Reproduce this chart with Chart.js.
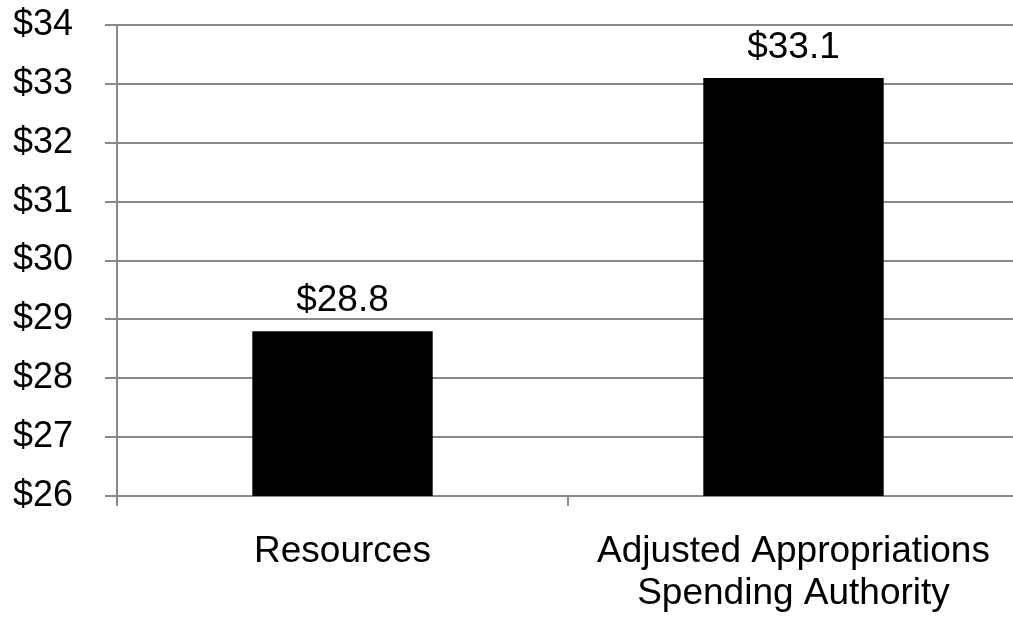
<!DOCTYPE html>
<html>
<head>
<meta charset="utf-8">
<script src="https://cdn.jsdelivr.net/npm/chart.js@4/dist/chart.umd.min.js"></script>
<style>
  html, body { margin: 0; padding: 0; background: #fff; overflow: hidden; }
  #wrap { width: 1020px; height: 617px; position: relative; }
</style>
</head>
<body>
<div id="wrap"><canvas id="c"></canvas></div>
<script>
const categories = ['Resources', ['Adjusted Appropriations', 'Spending Authority']];
const values = [28.8, 33.1];
const yMin = 26;
const yMax = 34;
const yStep = 1;
const currency = '$';

const FONT = "'Liberation Sans', Arial, Helvetica, sans-serif";
const GRID = '#898989';

const valueLabels = {
  id: 'valueLabels',
  afterDatasetsDraw(chart) {
    const ctx = chart.ctx;
    const meta = chart.getDatasetMeta(0);
    ctx.save();
    ctx.font = '37px ' + FONT;
    ctx.fillStyle = '#000';
    ctx.textAlign = 'center';
    ctx.textBaseline = 'alphabetic';
    meta.data.forEach((bar, i) => {
      const v = chart.data.datasets[0].data[i];
      ctx.fillText(currency + v.toFixed(1), bar.x, bar.y - 20);
    });
    ctx.restore();
  }
};

new Chart(document.getElementById('c'), {
  type: 'bar',
  data: {
    labels: categories,
    datasets: [{
      data: values,
      backgroundColor: '#000000',
      borderWidth: 0,
      barPercentage: 0.4,
      categoryPercentage: 1.0
    }]
  },
  options: {
    responsive: true,
    maintainAspectRatio: false,
    animation: false,
    layout: { padding: { left: 12, right: 1, top: 25, bottom: 4 } },
    plugins: { legend: { display: false }, tooltip: { enabled: false } },
    scales: {
      x: {
        afterFit(scale) {
          scale.height = 117;
          scale.paddingLeft = 0;
          scale.paddingRight = 0;
        },
        grid: {
          display: true,
          drawOnChartArea: false,
          drawTicks: true,
          tickLength: 10,
          color: GRID,
          lineWidth: 2
        },
        border: { display: true, color: GRID, width: 2 },
        ticks: {
          color: '#000',
          font: { family: FONT, size: 37, lineHeight: 1.135 },
          padding: 25,
          maxRotation: 0,
          autoSkip: false
        }
      },
      y: {
        min: yMin,
        max: yMax,
        afterFit(scale) {
          scale.width = 105;
          scale.paddingTop = 0;
          scale.paddingBottom = 0;
        },
        grid: {
          color: GRID,
          lineWidth: 2,
          drawTicks: true,
          tickLength: 12
        },
        border: { display: true, color: GRID, width: 2 },
        ticks: {
          stepSize: yStep,
          color: '#000',
          font: { family: FONT, size: 36, lineHeight: 1.2 },
          padding: 32,
          callback: (v) => currency + v
        }
      }
    }
  },
  plugins: [valueLabels]
});
</script>
</body>
</html>
